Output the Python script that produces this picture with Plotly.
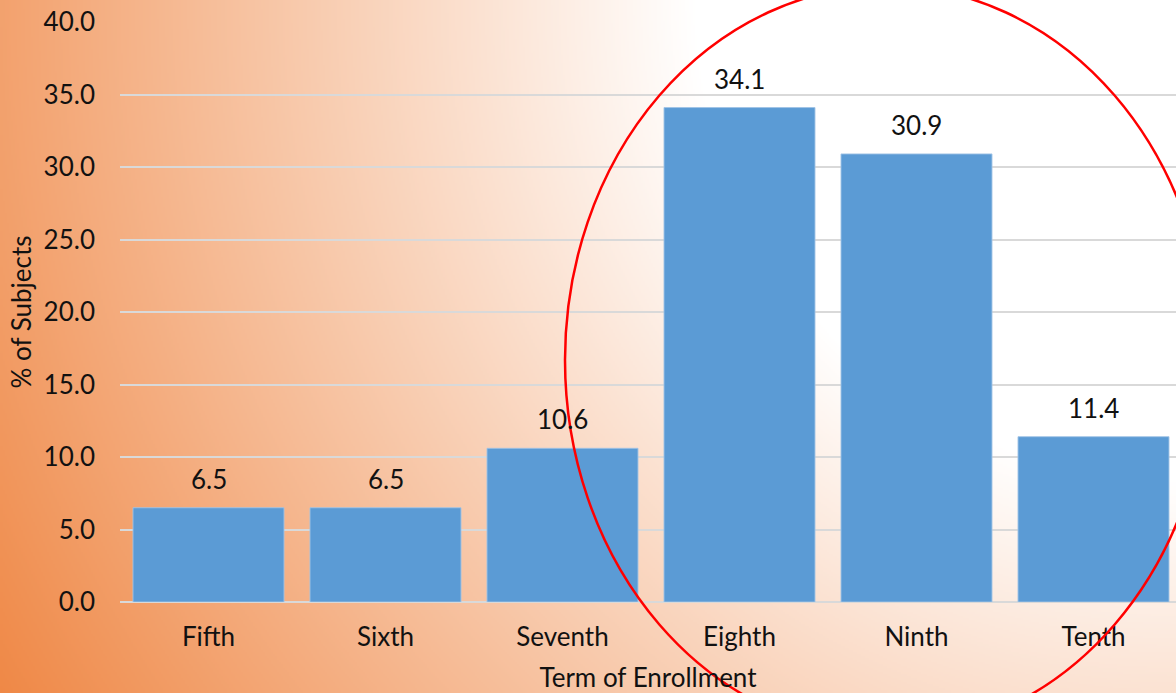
import base64, struct, zlib
import numpy as np
import plotly.graph_objects as go

# ---- data ----
terms = ["Fifth", "Sixth", "Seventh", "Eighth", "Ninth", "Tenth"]
pct_subjects = [6.5, 6.5, 10.6, 34.1, 30.9, 11.4]
y_ticks = [0, 5, 10, 15, 20, 25, 30, 35, 40]

W, H = 1176, 693
ML, MR, MT, MB = 120, 0, 22, 91
PW, PH = W - ML - MR, H - MT - MB

# ---- background gradient (radial, centred at top-right) ----
def make_png(arr):
    h, w, _ = arr.shape
    raw = b"".join(b"\x00" + arr[r].tobytes() for r in range(h))
    def chunk(tag, data):
        c = struct.pack(">I", len(data)) + tag + data
        return c + struct.pack(">I", zlib.crc32(tag + data) & 0xffffffff)
    ihdr = struct.pack(">IIBBBBB", w, h, 8, 2, 0, 0, 0)
    return (b"\x89PNG\r\n\x1a\n" + chunk(b"IHDR", ihdr) +
            chunk(b"IDAT", zlib.compress(raw, 9)) + chunk(b"IEND", b""))

s = 2
gx, gy = np.meshgrid(np.arange(0, W, s) + s / 2, np.arange(0, H, s) + s / 2)
d = np.sqrt((gx - W) ** 2 + gy ** 2)
f = np.clip((1365 - d) / 885, 0, 1)[..., None]
c0 = np.array([239, 136, 70], dtype=float)
img = (c0 + f * (255 - c0)).round().astype(np.uint8)
bg_uri = "data:image/png;base64," + base64.b64encode(make_png(img)).decode()

font = "Lato, 'Open Sans', sans-serif"
FS = 26

def px2paper_x(px):
    return (px - ML) / PW

def px2paper_y(py):
    return (H - MB - py) / PH

fig = go.Figure()
fig.add_trace(go.Bar(
    x=terms, y=pct_subjects,
    marker=dict(color="#5B9BD5", line=dict(color="rgba(160,195,230,0.9)", width=1)),
    hoverinfo="skip",
))

for t, val in zip(terms, pct_subjects):
    fig.add_annotation(x=t, y=val, text=f"{val:.1f}", showarrow=False,
                       yanchor="middle", yshift=29,
                       font=dict(family=font, size=FS, color="#111111"))

fig.add_layout_image(dict(
    source=bg_uri, xref="paper", yref="paper",
    x=px2paper_x(0), y=px2paper_y(0), sizex=W / PW, sizey=H / PH,
    xanchor="left", yanchor="top", sizing="stretch", layer="below",
))

# red hand-drawn ellipse (decoration)
fig.add_shape(type="circle", xref="paper", yref="paper",
              x0=px2paper_x(565), x1=px2paper_x(1209),
              y0=px2paper_y(-14), y1=px2paper_y(734),
              line=dict(color="#FF0000", width=2.5))

fig.update_layout(
    width=W, height=H,
    margin=dict(l=ML, r=MR, t=MT, b=MB),
    paper_bgcolor="white", plot_bgcolor="rgba(0,0,0,0)",
    showlegend=False, bargap=0.147,
    font=dict(family=font, size=FS, color="#111111"),
    xaxis=dict(range=[-0.5, -0.5 + PW / 177.0], showgrid=False, zeroline=False,
               showline=False, ticks="", tickfont=dict(size=FS),
               ticklabelstandoff=17,
               title=dict(text="Term of Enrollment", standoff=21,
                          font=dict(size=FS))),
    yaxis=dict(range=[0, 40], tickvals=y_ticks, tickformat=".1f",
               showgrid=True, gridcolor="#D9D9D9", gridwidth=1.5,
               zeroline=True, zerolinecolor="#D9D9D9", zerolinewidth=1.5,
               showline=False, ticks="", tickfont=dict(size=FS),
               ticklabelstandoff=24,
               title=dict(text="% of Subjects", standoff=4,
                          font=dict(size=FS))),
)

fig.write_html("out.html")
